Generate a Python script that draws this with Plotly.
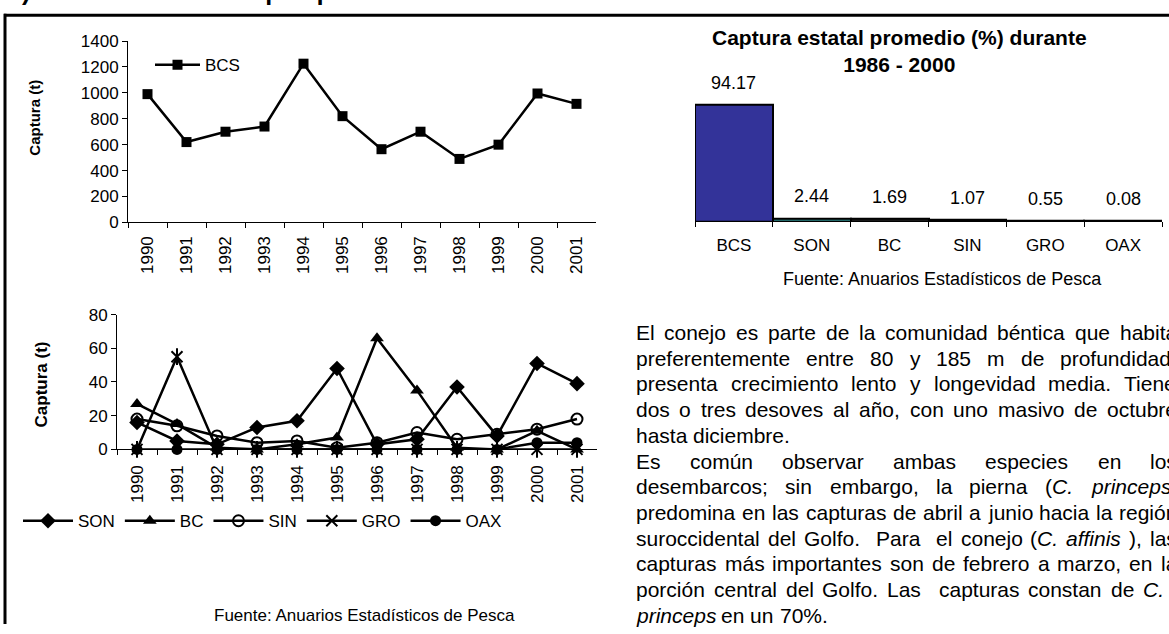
import re
import plotly.graph_objects as go

W, H = 1169, 634

# ---------------- data ----------------
years = [str(y) for y in range(1990, 2002)]
bcs = [990, 620, 700, 740, 1225, 820, 565, 700, 490, 600, 995, 915]

son = [16, 5, 3, 13, 17, 48, 3, 6, 37, 8, 51, 39]
bc = [27, 15, 1, 0, 3, 7, 66, 35, 1, 0, 11, 0]
sin = [18, 14, 8, 4, 5, 1, 4, 10, 6, 9, 12, 18]
gro = [0, 55, 0, 0, 0, 0, 0, 0, 0, 0, 0, 0]
oax = [0, 0, 0, 0, 0, 0, 0, 0, 0, 0, 4, 4]

estados = ["BCS", "SON", "BC", "SIN", "GRO", "OAX"]
promedio = [94.17, 2.44, 1.69, 1.07, 0.55, 0.08]

encabezado = ("c)", "Indicadores de la pesquería")
fuente = "Fuente: Anuarios Estadísticos de Pesca"
titulo_barras = "Captura estatal promedio (%) durante<br>1986 - 2000"

parrafo = [
    ("El conejo es parte de la comunidad béntica que habita", 1175),
    ("preferentemente entre 80 y 185 m de profundidad,", 1175),
    ("presenta crecimiento lento y longevidad media. Tiene", 1175),
    ("dos o tres desoves al año, con uno masivo de octubre", 1175),
    ("hasta diciembre.", None),
    ("Es común observar ambas especies en los", 1175),
    ("desembarcos; sin embargo, la pierna (<i>C.</i> <i>princeps</i>)", 1175),
    ("predomina en las capturas de abril a junio hacia la región", 1175),
    ("suroccidental del Golfo.  Para  el conejo (<i>C.</i> <i>affinis</i> ), las", 1175),
    ("capturas más importantes son de febrero a marzo, en la", 1175),
    ("porción central del Golfo. Las  capturas constan de <i>C.</i>", 1162),
    ("<i>princeps</i> en un 70%.", None),
]

FONT = "Arial, Liberation Sans, sans-serif"


def X(p):
    return p / W


def Y(p):
    return 1 - p / H


# Arial advance widths (1/1000 em) used to justify the paragraph
CW = {" ": 278, "(": 333, ")": 333, ",": 278, ".": 278, ";": 278, "%": 889,
      "A": 667, "B": 667, "C": 722, "E": 667, "G": 778, "L": 556, "P": 667, "T": 611,
      "a": 556, "b": 556, "c": 500, "d": 556, "e": 556, "f": 278, "g": 556, "h": 556,
      "i": 222, "j": 222, "l": 222, "m": 833, "n": 556, "o": 556, "p": 556, "q": 556,
      "r": 333, "s": 500, "t": 278, "u": 556, "v": 500, "y": 500, "z": 500,
      "á": 556, "é": 556, "í": 278, "ó": 556, "ú": 556, "ñ": 556}


def width(txt, size):
    plain = re.sub(r"<.*?>", "", txt)
    return sum(CW.get(ch, 556) for ch in plain) * size / 1000.0


fig = go.Figure()

# ---------------- BCS line chart ----------------
fig.add_trace(go.Scatter(
    x=years, y=bcs, name="BCS", mode="lines+markers",
    line=dict(color="black", width=2.5),
    marker=dict(symbol="square", size=10, color="black"),
    xaxis="x", yaxis="y", legend="legend", cliponaxis=False))

# ---------------- other states ----------------
estilos = [
    ("SON", son, "diamond", 12, 0),
    ("BC", bc, "triangle-up", 12, 0),
    ("SIN", sin, "circle-open", 11, 2),
    ("GRO", gro, "x-thin-open", 11, 2),
    ("OAX", oax, "circle", 11, 0),
]
for nombre, vals, sym, size, lw in estilos:
    fig.add_trace(go.Scatter(
        x=years, y=vals, name=nombre, mode="lines+markers",
        line=dict(color="black", width=2.5),
        marker=dict(symbol=sym, size=size, color="black",
                    line=dict(color="black", width=lw)),
        xaxis="x2", yaxis="y2", legend="legend2", legendgroup=nombre,
        cliponaxis=False))
    if nombre == "GRO":
        fig.add_trace(go.Scatter(
            x=years, y=vals, mode="markers", showlegend=False,
            marker=dict(symbol="line-ns-open", size=12, color="black",
                        line=dict(color="black", width=2)),
            xaxis="x2", yaxis="y2", legendgroup=nombre, cliponaxis=False,
            hoverinfo="skip"))

# ---------------- bar chart ----------------
fig.add_trace(go.Bar(
    x=estados, y=promedio, width=1,
    marker=dict(color=["#333399", "#2e8b8b", "#222222", "#222222", "#222222", "#222222"],
                line=dict(color="black", width=2)),
    xaxis="x3", yaxis="y3", showlegend=False))

ann = []
for e, v in zip(estados, promedio):
    ann.append(dict(x=e, y=v, xref="x3", yref="y3", text=f"{v:.2f}", showarrow=False,
                    yanchor="middle", yshift=22, font=dict(size=18)))

ann.append(dict(x=X(900), y=Y(43), xref="paper", yref="paper", text=f"<b>{titulo_barras}</b>",
                showarrow=False, font=dict(size=21), xanchor="center", yanchor="middle"))
ann.append(dict(x=X(942), y=Y(278), xref="paper", yref="paper", text=fuente,
                showarrow=False, font=dict(size=18), xanchor="center", yanchor="middle"))
ann.append(dict(x=X(364), y=Y(625), xref="paper", yref="paper", text=fuente,
                showarrow=False, font=dict(size=17), xanchor="center", yanchor="middle"))

# section heading above the frame (only its lowest part falls inside the page)
ann.append(dict(x=X(6), y=Y(-2), xref="paper", yref="paper", text=f"<b>{encabezado[0]}</b>",
                showarrow=False, font=dict(size=25), xanchor="left", yanchor="bottom"))
ann.append(dict(x=X(52), y=Y(-2), xref="paper", yref="paper", text=f"<b>{encabezado[1]}</b>",
                showarrow=False, font=dict(size=25), xanchor="left", yanchor="bottom"))

# axis titles
ann.append(dict(x=X(35), y=Y(112), xref="paper", yref="paper", text="<b>Captura (t)</b>",
                textangle=-90, showarrow=False, font=dict(size=15),
                xanchor="center", yanchor="middle"))
ann.append(dict(x=X(41), y=Y(387), xref="paper", yref="paper", text="<b>Captura (t)</b>",
                textangle=-90, showarrow=False, font=dict(size=17),
                xanchor="center", yanchor="middle"))

# justified paragraph
FS = 21
x0 = 634
for k, (linea, derecha) in enumerate(parrafo):
    yk = 333.5 + 26.5 * k
    tokens = linea.split(" ")
    sp = CW[" "] * FS / 1000.0
    gaps = len(tokens) - 1
    natural = sum(width(t, FS) for t in tokens) + gaps * sp
    extra = (derecha - x0 - natural) / gaps if (derecha and gaps) else 0
    xc = x0
    for t in tokens:
        if t:
            ann.append(dict(x=X(xc), y=Y(yk), xref="paper", yref="paper", text=t,
                            showarrow=False, xanchor="left", yanchor="middle",
                            font=dict(size=FS)))
        xc += width(t, FS) + sp + extra

# frame
shapes = [
    dict(type="line", xref="paper", yref="paper", x0=X(5), x1=X(5), y0=Y(634), y1=Y(5),
         line=dict(color="black", width=3)),
    dict(type="line", xref="paper", yref="paper", x0=X(4), x1=X(1169), y0=Y(6.5), y1=Y(6.5),
         line=dict(color="black", width=3)),
]

eje = dict(showline=True, linecolor="black", linewidth=1, ticks="outside", ticklen=5,
           tickcolor="black", tickwidth=1, showgrid=False, zeroline=False,
           tickfont=dict(size=17, color="black"), fixedrange=True)

fig.update_layout(
    width=W, height=H, autosize=False,
    margin=dict(l=0, r=0, t=0, b=0),
    paper_bgcolor="white", plot_bgcolor="white",
    font=dict(family=FONT, color="black"),
    bargap=0,
    xaxis=dict(eje, domain=[X(128), X(596)], anchor="y", type="category",
               tickson="boundaries", tickangle=-90, range=[-0.5, 11.5],
               ticklabelstandoff=6),
    yaxis=dict(eje, domain=[Y(220), Y(33)], anchor="x", range=[0, 1400], dtick=200),
    xaxis2=dict(eje, domain=[X(117), X(597)], anchor="y2", type="category",
                tickson="boundaries", tickangle=-90, range=[-0.5, 11.5],
                ticklabelstandoff=8),
    yaxis2=dict(eje, domain=[Y(454), Y(315)], anchor="x2", range=[0, 80], dtick=20),
    xaxis3=dict(eje, domain=[X(695), X(1162)], anchor="y3", type="category",
                tickson="boundaries", range=[-0.5, 5.5], ticklabelstandoff=8),
    yaxis3=dict(domain=[Y(219), Y(91.6)], anchor="x3", range=[0, 100], visible=False,
                fixedrange=True),
    legend=dict(x=X(150), y=Y(58), xanchor="left", yanchor="middle", orientation="h",
                bgcolor="rgba(0,0,0,0)", font=dict(size=17), itemwidth=45),
    legend2=dict(x=X(18), y=Y(528), xanchor="left", yanchor="middle", orientation="h",
                 bgcolor="rgba(0,0,0,0)", font=dict(size=17), itemwidth=50),
    annotations=ann,
    shapes=shapes,
    showlegend=True,
)

fig.write_html("out.html")
